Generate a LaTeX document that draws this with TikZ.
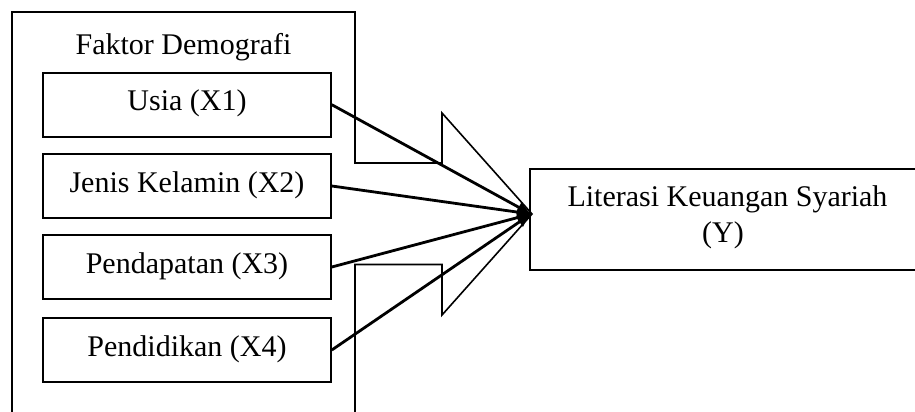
\documentclass[tikz,border=0pt]{standalone}
\usepackage{fontspec}
\setmainfont{Liberation Serif}
\usetikzlibrary{arrows.meta}
\begin{document}
\begin{tikzpicture}[x=1pt,y=-1pt,
  every node/.style={font=\fontsize{30}{36}\selectfont},
  inbox/.style={draw, line width=1.6pt, minimum width=288pt, text height=38pt, text depth=26pt, inner sep=0pt},
  ybox/.style={draw, line width=1.6pt, minimum width=395pt, minimum height=101pt, inner sep=0pt},
  frame/.style={line width=1.6pt, line join=miter},
  arr/.style={line width=2.8pt, -{Latex[length=14pt,width=13pt]}}]
\useasboundingbox (0,0) rectangle (915,412);
\clip (0,0) rectangle (915,412);
% outer frame with block arrow
\draw[frame] (12,430) -- (12,12) -- (355,12) -- (355,163) -- (442,163) -- (442,113)
  -- (532,214) -- (442,315) -- (442,264.5) -- (355,264.5) -- (355,430);
\node[anchor=base] (fd) at (183.5,55) {Faktor Demografi};
\node[inbox] (x1) at (187,104.7) {Usia (X1)};
\node[inbox] (x2) at (187,186) {Jenis Kelamin (X2)};
\node[inbox] (x3) at (187,267) {Pendapatan (X3)};
\node[inbox] (x4) at (187,350) {Pendidikan (X4)};
\node[ybox] (y) at (727.5,219.5) {};
\node[anchor=base] (yt1) at (727.5,206) {Literasi Keuangan Syariah};
\node[anchor=base] (yt2) at (723,242) {(Y)};
\coordinate (tip) at (531,214);
\draw[arr] (x1.east) -- (tip);
\draw[arr] (x2.east) -- (tip);
\draw[arr] (x3.east) -- (tip);
\draw[arr] (x4.east) -- (tip);
\end{tikzpicture}
\end{document}
